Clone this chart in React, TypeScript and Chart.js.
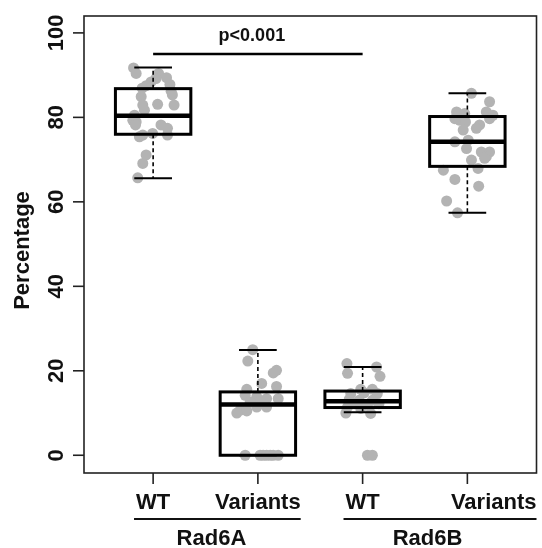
import React, { useEffect, useRef } from "react";
import { Chart, registerables } from "chart.js";

Chart.register(...registerables);

// Categories (box positions 1..4)
const categories = ["WT", "Variants", "WT", "Variants"];
const groups = ["Rad6A", "Rad6B"];
const yTicks = [0, 20, 40, 60, 80, 100];
const pLabel = "p<0.001";
const pValueLevel = 95;
const yTitle = "Percentage";

// Box statistics: [whisker low, Q1, median, Q3, whisker high]
const boxWT6A = [65.6, 76.0, 80.4, 86.8, 91.8];
const boxVar6A = [0, 0, 12.0, 15.0, 24.9];
const boxWT6B = [10.2, 11.3, 12.8, 15.2, 20.9];
const boxVar6B = [57.4, 68.4, 74.2, 80.2, 85.7];

// Jittered points: x positions and values
const ptsWT6A_x = [0.813, 0.838, 1.052, 1.027, 1.128, 1.16, 0.98, 0.933, 0.895, 1.172, 0.886, 1.184, 1.043, 1.2, 0.901, 0.917, 0.822, 0.806, 0.838, 0.832, 1.075, 1.137, 0.901, 0.869, 0.995, 1.137, 0.933, 0.901, 0.853];
const ptsWT6A_y = [91.7, 90.4, 90.4, 89.2, 89.4, 87.8, 88.4, 87.5, 86.9, 86.2, 84.9, 85.3, 83.1, 82.9, 82.9, 81.7, 80.5, 79.3, 78.9, 78.2, 78.2, 77.4, 75.8, 75.4, 76.2, 75.8, 71.1, 69.1, 65.7];

const ptsVar6A_x = [1.951, 1.904, 2.178, 2.147, 2.036, 2.178, 1.894, 1.879, 1.989, 2.083, 2.194, 2.021, 1.926, 2.083, 1.989, 1.832, 1.894, 1.799, 1.879, 2.021, 2.05, 2.083, 2.118, 2.147, 2.194];
const ptsVar6A_y = [25.0, 22.3, 20.1, 19.5, 17.0, 16.3, 15.6, 14.2, 13.8, 13.4, 13.4, 12.6, 12.6, 11.4, 11.4, 10.7, 10.5, 10.0, 0, 0, 0, 0, 0, 0, 0];

const ptsWT6B_x = [2.85, 2.856, 3.133, 3.166, 2.982, 3.093, 2.887, 3.014, 3.14, 2.872, 2.967, 3.093, 2.92, 3.046, 3.156, 2.856, 2.982, 2.84, 3.077, 3.046, 3.093];
const ptsWT6B_y = [21.7, 19.4, 20.9, 18.7, 15.6, 15.6, 14.6, 14.8, 14.6, 13.2, 13.0, 13.0, 12.2, 12.0, 12.2, 11.4, 11.1, 10.0, 9.9, 0, 0];

const ptsVar6B_x = [4.039, 4.212, 3.897, 3.975, 4.181, 4.244, 3.881, 3.928, 3.982, 4.212, 4.117, 4.086, 3.96, 3.881, 4.008, 3.992, 4.133, 4.212, 4.181, 4.039, 4.102, 3.771, 3.881, 4.108, 3.802, 3.906, 4.165];
const ptsVar6B_y = [85.7, 83.7, 81.3, 80.9, 81.3, 80.5, 79.7, 79.3, 78.9, 79.7, 78.2, 77.4, 77.0, 74.2, 74.6, 72.6, 71.8, 71.8, 70.7, 69.9, 67.9, 67.5, 65.3, 63.7, 60.2, 57.4, 70.3];

const boxes = [boxWT6A, boxVar6A, boxWT6B, boxVar6B];
const pointSets = [
  [ptsWT6A_x, ptsWT6A_y],
  [ptsVar6A_x, ptsVar6A_y],
  [ptsWT6B_x, ptsWT6B_y],
  [ptsVar6B_x, ptsVar6B_y],
];

const FONT = '"Liberation Sans", Arial, sans-serif';

const overlay = {
  id: "boxOverlay",
  afterDatasetsDraw(chart: any) {
    const ctx = chart.ctx;
    const xs = chart.scales.x;
    const ys = chart.scales.y;
    const halfW = 0.36;
    ctx.save();
    boxes.forEach((b, i) => {
      const pos = i + 1;
      const xl = xs.getPixelForValue(pos - halfW);
      const xr = xs.getPixelForValue(pos + halfW);
      const xc = xs.getPixelForValue(pos);
      const capL = xs.getPixelForValue(pos - halfW / 2);
      const capR = xs.getPixelForValue(pos + halfW / 2);
      const [lo, q1, med, q3, hi] = b.map((v) => ys.getPixelForValue(v));
      ctx.strokeStyle = "#000";
      ctx.lineWidth = 1.6;
      ctx.setLineDash([4, 3]);
      ctx.beginPath();
      ctx.moveTo(xc, q3);
      ctx.lineTo(xc, hi);
      ctx.moveTo(xc, q1);
      ctx.lineTo(xc, lo);
      ctx.stroke();
      ctx.setLineDash([]);
      ctx.lineWidth = 2;
      ctx.beginPath();
      ctx.moveTo(capL, hi);
      ctx.lineTo(capR, hi);
      ctx.moveTo(capL, lo);
      ctx.lineTo(capR, lo);
      ctx.stroke();
      ctx.lineWidth = 3;
      ctx.strokeRect(xl, q3, xr - xl, q1 - q3);
      ctx.lineWidth = 4.5;
      ctx.beginPath();
      ctx.moveTo(xl, med);
      ctx.lineTo(xr, med);
      ctx.stroke();
    });
    ctx.restore();
  },
  afterDraw(chart: any) {
    const ctx = chart.ctx;
    const xs = chart.scales.x;
    const ys = chart.scales.y;
    const a = chart.chartArea;
    ctx.save();
    ctx.strokeStyle = "#222";
    ctx.lineWidth = 1.6;
    ctx.strokeRect(a.left, a.top, a.right - a.left, a.bottom - a.top);
    ctx.fillStyle = "#111";
    ctx.font = `bold 22px ${FONT}`;
    yTicks.forEach((t) => {
      const y = ys.getPixelForValue(t);
      ctx.beginPath();
      ctx.moveTo(a.left, y);
      ctx.lineTo(a.left - 11, y);
      ctx.stroke();
      ctx.save();
      ctx.translate(a.left - 21, y);
      ctx.rotate(-Math.PI / 2);
      ctx.textAlign = "center";
      ctx.textBaseline = "alphabetic";
      ctx.fillText(String(t), 0, 0);
      ctx.restore();
    });
    ctx.save();
    ctx.translate(29, (a.top + a.bottom) / 2 + 6);
    ctx.rotate(-Math.PI / 2);
    ctx.textAlign = "center";
    ctx.fillText(yTitle, 0, 0);
    ctx.restore();
    const labelExt: number[][] = [];
    categories.forEach((c, i) => {
      const x = xs.getPixelForValue(i + 1);
      ctx.beginPath();
      ctx.moveTo(x, a.bottom);
      ctx.lineTo(x, a.bottom + 11);
      ctx.stroke();
      const w = ctx.measureText(c).width;
      const last = i === categories.length - 1;
      const cx = last ? a.right - w / 2 : x;
      ctx.textAlign = "center";
      ctx.fillText(c, cx, a.bottom + 36);
      labelExt.push([cx - w / 2, cx + w / 2]);
    });
    ctx.lineWidth = 2;
    ctx.strokeStyle = "#111";
    groups.forEach((g, gi) => {
      const l = labelExt[gi * 2][0] - 2;
      const r = labelExt[gi * 2 + 1][1];
      const y = a.bottom + 46;
      ctx.beginPath();
      ctx.moveTo(l, y);
      ctx.lineTo(r, y);
      ctx.stroke();
      const tickMid = (xs.getPixelForValue(gi * 2 + 1) + xs.getPixelForValue(gi * 2 + 2)) / 2;
      ctx.textAlign = "center";
      ctx.fillText(g, (tickMid + (l + r) / 2) / 2, a.bottom + 72);
    });
    const py = ys.getPixelForValue(pValueLevel);
    ctx.lineWidth = 2.5;
    ctx.strokeStyle = "#000";
    ctx.beginPath();
    ctx.moveTo(xs.getPixelForValue(1), py);
    ctx.lineTo(xs.getPixelForValue(3), py);
    ctx.stroke();
    ctx.font = `bold 18px ${FONT}`;
    ctx.textAlign = "center";
    ctx.fillText(pLabel, (xs.getPixelForValue(1) + xs.getPixelForValue(3)) / 2 - 6, py - 13);
    ctx.restore();
  },
};

export default function App() {
  const ref = useRef<HTMLCanvasElement>(null);
  useEffect(() => {
    if (!ref.current) return;
    const chart = new Chart(ref.current, {
      type: "scatter",
      data: {
        datasets: pointSets.map(([xsArr, ysArr], i) => ({
          label: categories[i],
          data: xsArr.map((x, j) => ({ x, y: ysArr[j] })),
          backgroundColor: "#b3b3b3",
          borderWidth: 0,
          pointRadius: 5.5,
        })),
      },
      options: {
        responsive: false,
        animation: false,
        layout: { padding: { left: 84, top: 16, right: 1.5, bottom: 75 } },
        plugins: { legend: { display: false }, tooltip: { enabled: false } },
        scales: {
          x: { type: "linear", min: 0.34, max: 4.66, display: false },
          y: { type: "linear", min: -4.2, max: 104, display: false },
        },
      },
      plugins: [overlay],
    });
    return () => chart.destroy();
  }, []);
  return (
    <div style={{ position: "absolute", left: 0, top: 0, width: 542, height: 548, background: "#fff" }}>
      <canvas ref={ref} width={542} height={548} />
    </div>
  );
}
